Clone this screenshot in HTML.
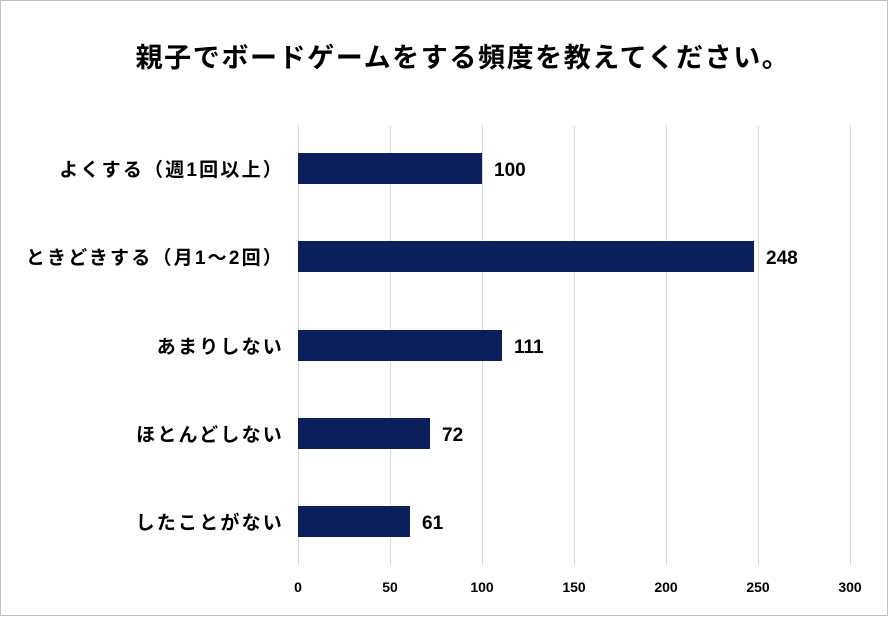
<!DOCTYPE html>
<html><head><meta charset="utf-8"><style>
body{margin:0;background:#fff}
svg text{font-family:"Liberation Sans","Noto Sans CJK JP",sans-serif;font-weight:bold;fill:#000}
</style></head><body>
<svg width="888" height="616" xmlns="http://www.w3.org/2000/svg">
<rect x="0.5" y="0.5" width="887" height="615" fill="#fff" stroke="#bfbfbf"/>
<text x="463" y="67" font-size="27" letter-spacing="1.6" text-anchor="middle">親子でボードゲームをする頻度を教えてください。</text>
<g stroke="#d9d9d9" stroke-width="1">
<line x1="298.5" y1="125" x2="298.5" y2="565"/>
<line x1="390.5" y1="125" x2="390.5" y2="565"/>
<line x1="482.5" y1="125" x2="482.5" y2="565"/>
<line x1="574.5" y1="125" x2="574.5" y2="565"/>
<line x1="666.5" y1="125" x2="666.5" y2="565"/>
<line x1="758.5" y1="125" x2="758.5" y2="565"/>
<line x1="850.5" y1="125" x2="850.5" y2="565"/>
</g>
<g fill="#0a1f5c">
<rect x="298" y="153" width="184" height="31"/>
<rect x="298" y="241" width="456" height="31"/>
<rect x="298" y="330" width="204" height="31"/>
<rect x="298" y="418" width="132" height="31"/>
<rect x="298" y="506" width="112" height="31"/>
</g>
<g font-size="19">
<text x="494" y="176">100</text>
<text x="766" y="264">248</text>
<text x="514" y="353">111</text>
<text x="442" y="441">72</text>
<text x="422" y="529">61</text>
</g>
<g font-size="19" letter-spacing="2.2" text-anchor="end">
<text x="284" y="176">よくする（週1回以上）</text>
<text x="284" y="264">ときどきする（月1～2回）</text>
<text x="284" y="353">あまりしない</text>
<text x="284" y="441">ほとんどしない</text>
<text x="284" y="529">したことがない</text>
</g>
<g font-size="14" text-anchor="middle">
<text x="298" y="592">0</text>
<text x="390" y="592">50</text>
<text x="482" y="592">100</text>
<text x="574" y="592">150</text>
<text x="666" y="592">200</text>
<text x="758" y="592">250</text>
<text x="850" y="592">300</text>
</g>
</svg>
</body></html>
